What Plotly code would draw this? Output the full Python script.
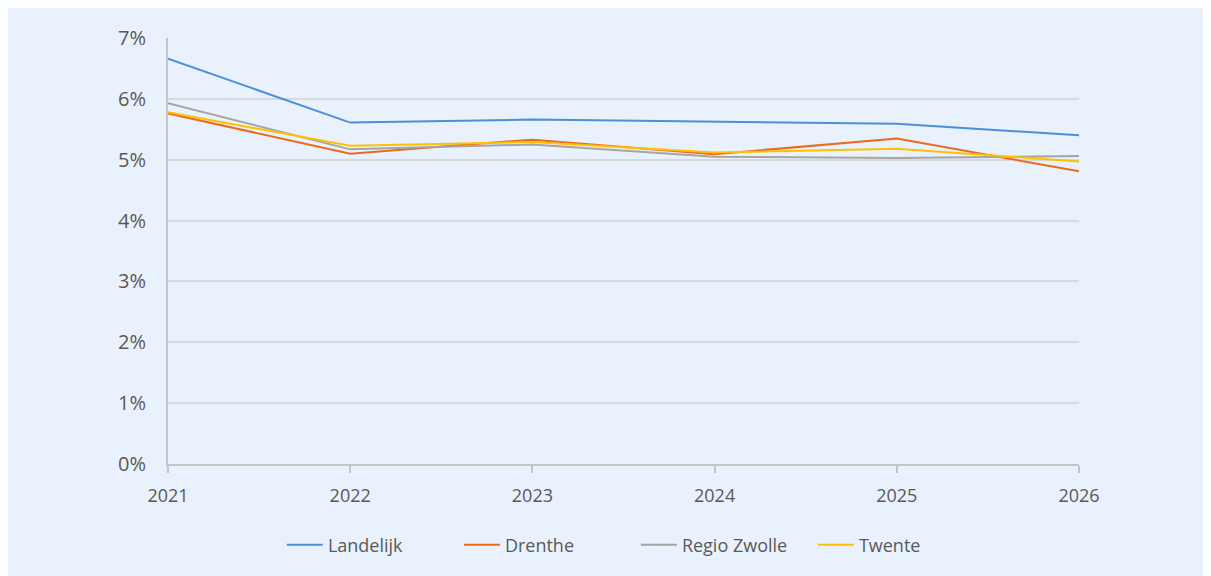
import plotly.graph_objects as go

years = ["2021", "2022", "2023", "2024", "2025", "2026"]
landelijk = [6.66, 5.61, 5.66, 5.63, 5.59, 5.40]
drenthe = [5.76, 5.10, 5.33, 5.09, 5.35, 4.81]
regio_zwolle = [5.93, 5.17, 5.25, 5.05, 5.03, 5.06]
twente = [5.78, 5.23, 5.29, 5.12, 5.18, 4.97]

series = [
    ("Landelijk", landelijk, "#4a8fd8"),
    ("Drenthe", drenthe, "#ec6a1c"),
    ("Regio Zwolle", regio_zwolle, "#a5a5a5"),
    ("Twente", twente, "#ffc000"),
]

fig = go.Figure()
for name, vals, col in series:
    fig.add_trace(go.Scatter(
        name=name,
        x=years,
        y=[v / 100 for v in vals],
        mode='lines',
        line=dict(width=2, color=col),
    ))

# page body margin gives the thin white strip on top/left
fig.update_layout(
    width=1203, height=568,
    margin=dict(l=160, r=132, t=30, b=110, pad=0),
    paper_bgcolor="#e9f1fd",
    plot_bgcolor="#e9f1fd",
    font=dict(family="Open Sans", color="#595959"),
    showlegend=True,
    legend=dict(orientation="h", x=0.125, xanchor="left", y=-0.19, yanchor="middle",
                font=dict(size=18), bgcolor="rgba(0,0,0,0)", itemwidth=36,
                entrywidth=126, entrywidthmode="pixels",
                tracegroupgap=0),
    xaxis=dict(
        type="category", range=[0, 5], showgrid=False,
        showline=True, linecolor="#c4c4c4", linewidth=2,
        ticks="outside", ticklen=7, tickcolor="#c4c4c4", tickwidth=2,
        tickfont=dict(size=18), ticklabelstandoff=7,
    ),
    yaxis=dict(
        range=[0, 0.07], dtick=0.01, tickformat=".0%",
        showgrid=True, gridcolor="#d9d9d9", gridwidth=2,
        showline=True, linecolor="#c4c4c4", linewidth=2,
        zeroline=False, ticks="", tickfont=dict(size=20),
        ticklabelstandoff=16,
    ),
)

fig.write_html("out.html")
